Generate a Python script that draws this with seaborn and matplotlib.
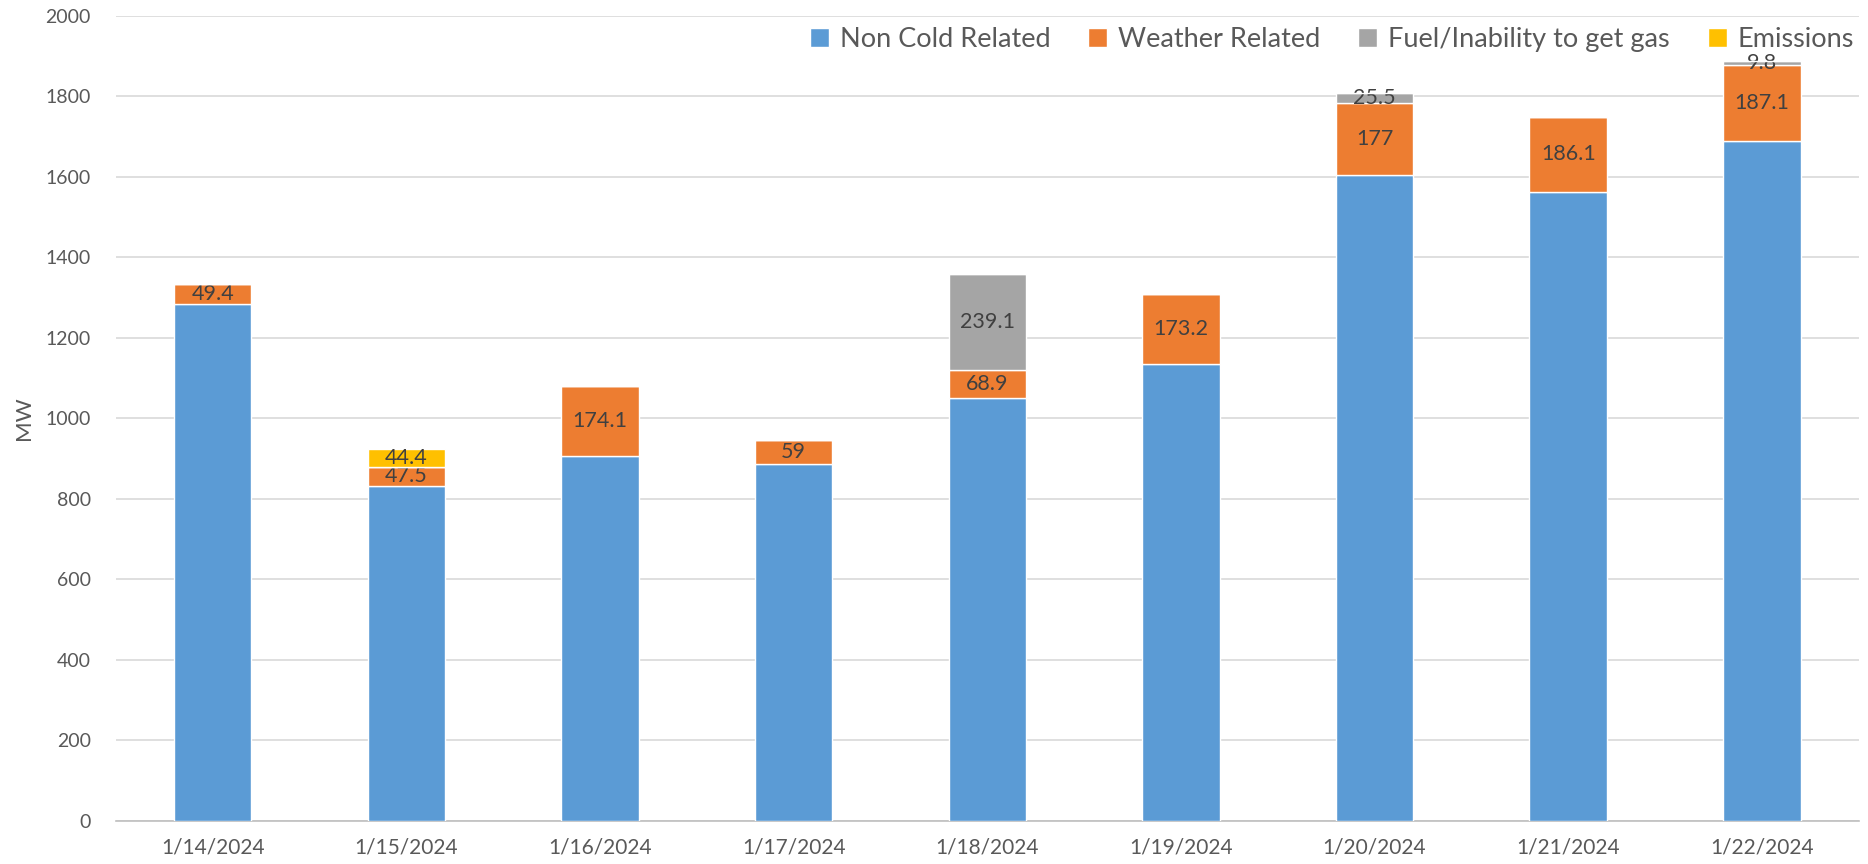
import matplotlib
matplotlib.use('Agg')
import matplotlib.pyplot as plt
import numpy as np
import seaborn as sns

dates = ['1/14/2024', '1/15/2024', '1/16/2024', '1/17/2024', '1/18/2024',
         '1/19/2024', '1/20/2024', '1/21/2024', '1/22/2024']
non_cold = [1284, 832, 907, 887, 1050, 1135, 1605, 1562, 1689]
weather = [49.4, 47.5, 174.1, 59, 68.9, 173.2, 177, 186.1, 187.1]
fuel = [0, 0, 0, 0, 239.1, 0, 25.5, 0, 9.8]
emissions = [0, 44.4, 0, 0, 0, 0, 0, 0, 0]

series = [('Non Cold Related', non_cold, '#5B9BD5'),
          ('Weather Related', weather, '#ED7D31'),
          ('Fuel/Inability to get gas', fuel, '#A5A5A5'),
          ('Emissions', emissions, '#FFC000')]

sns.set_theme(style='white')
plt.rcParams['font.family'] = ['Lato', 'DejaVu Sans']

fig = plt.figure(figsize=(18.68, 8.64), dpi=100)
ax = fig.add_axes([0.062, 0.05, 0.933, 0.932])

bottom = np.zeros(len(dates))
for name, vals, col in series:
    sns.barplot(x=dates, y=vals, bottom=bottom, color=col, width=0.4,
                saturation=1, label=name, ax=ax, zorder=3)
    cont = ax.containers[-1]
    if name != 'Non Cold Related':
        labels = [f'{v:g}' if v else '' for v in vals]
        ax.bar_label(cont, labels=labels, label_type='center',
                     fontsize=15.5, color='#404040')
    bottom = bottom + np.array(vals)

ax.set_ylim(0, 2000)
ax.set_xlim(-0.5, len(dates) - 0.5)
ax.set_yticks(range(0, 2001, 200))
ax.yaxis.grid(True, color='#D9D9D9', linewidth=1.2, zorder=0)
ax.set_axisbelow(True)
for s in ['top', 'right', 'left']:
    ax.spines[s].set_visible(False)
ax.spines['bottom'].set_color('#BFBFBF')
ax.spines['bottom'].set_linewidth(1.2)

ax.tick_params(axis='y', length=0, labelsize=14, labelcolor='#595959', pad=18)
ax.tick_params(axis='x', which='major', length=0, labelsize=15,
               labelcolor='#595959', pad=12)
ax.set_xticks(np.arange(-0.5, len(dates), 1), minor=True)
ax.tick_params(axis='x', which='minor', length=7, color='#BFBFBF', width=1.2)

ax.set_ylabel('MW', fontsize=16, color='#595959', labelpad=8)
ax.set_xlabel('')

ax.legend(loc='upper right', bbox_to_anchor=(1.005, 1.003), ncol=4, frameon=False,
          fontsize=19.5, labelcolor='#595959', handlelength=0.7, handleheight=0.7,
          handletextpad=0.4, columnspacing=1.4, borderaxespad=0.1)

fig.savefig('out.png', dpi=100)
